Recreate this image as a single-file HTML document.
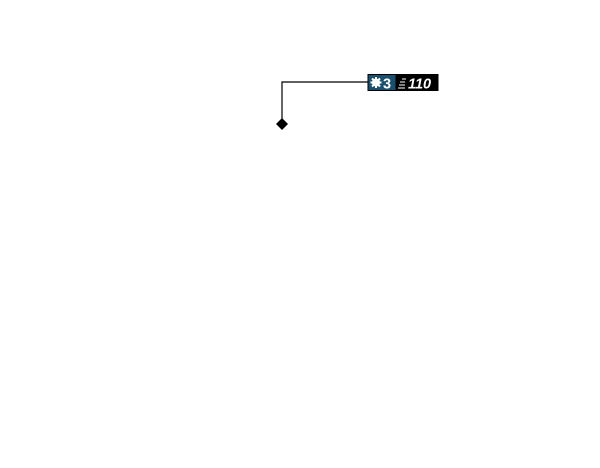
<!DOCTYPE html>
<html><head><style>
html,body{margin:0;padding:0;background:#fff;width:600px;height:468px;overflow:hidden}
</style></head><body>
<svg width="600" height="468" xmlns="http://www.w3.org/2000/svg" style="position:absolute;left:0;top:0">
<polyline points="368,82 282,82 282,120" fill="none" stroke="#000" stroke-width="1.2"/>
<polygon points="282,118 288,124 282,130 276,124" fill="#000"/>
<rect x="367.5" y="74" width="71" height="17" fill="#000"/>
<rect x="368.5" y="75" width="27" height="15" fill="#1b4f6e"/>
<circle cx="376" cy="82.5" r="4" fill="#fff"/>
<g stroke="#fff" stroke-width="2">
<line x1="376" y1="77" x2="376" y2="88"/>
<line x1="370.5" y1="82.5" x2="381.5" y2="82.5"/>
<line x1="372" y1="78.5" x2="380" y2="86.5"/>
<line x1="380" y1="78.5" x2="372" y2="86.5"/>
</g>
<text x="383" y="88.5" font-family="Liberation Sans, sans-serif" font-size="14.5" font-weight="bold" fill="#fff">3</text>
<g stroke="#fff" stroke-width="1">
<line x1="402" y1="79" x2="406" y2="79"/>
<line x1="400" y1="82" x2="405" y2="82"/>
<line x1="399" y1="85" x2="405" y2="85"/>
<line x1="398" y1="88" x2="405" y2="88"/>
</g>
<text x="408" y="88.5" font-family="Liberation Sans, sans-serif" font-size="14.5" font-weight="bold" font-style="italic" fill="#fff">110</text>
</svg>
</body></html>
